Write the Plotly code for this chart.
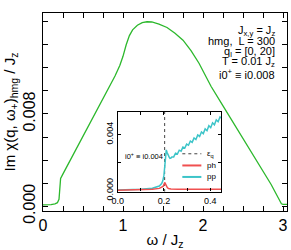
import plotly.graph_objects as go

# ---------------- data ----------------
omega_main = [0, 0.05, 0.10, 0.15, 0.18, 0.20, 0.21, 0.215, 0.22, 0.25, 0.35, 0.5, 0.6, 0.7,
              0.8, 0.9, 0.96, 1.0, 1.04, 1.08, 1.12, 1.18, 1.24, 1.3, 1.36, 1.45, 1.55, 1.65,
              1.75, 1.85, 1.95, 2.1, 2.25, 2.4, 2.55, 2.7, 2.85, 2.95, 2.98, 3.0, 3.05]
chi_main = [0.00012, 0.00012, 0.00014, 0.0002, 0.0003, 0.0006, 0.0015, 0.0023, 0.0024, 0.0028,
            0.0041, 0.0061, 0.0074, 0.0087, 0.0100, 0.0113, 0.0122, 0.0130, 0.0140, 0.0148,
            0.0153, 0.0157, 0.01593, 0.0160, 0.01598, 0.0158, 0.0155, 0.0150, 0.0144, 0.0135,
            0.0124, 0.0104, 0.0087, 0.0070, 0.0053, 0.0036, 0.0019, 0.0006, 0.0002, 0.00015,
            0.00015]

pp_omega = [0, 0.05, 0.1, 0.15, 0.17, 0.18, 0.19, 0.195, 0.2, 0.202, 0.204, 0.207, 0.21, 0.214,
            0.218, 0.222, 0.226, 0.23, 0.234, 0.242, 0.250, 0.258, 0.266, 0.274, 0.282, 0.290,
            0.298, 0.306, 0.314, 0.322, 0.330, 0.338, 0.346, 0.354, 0.362, 0.370, 0.378, 0.386,
            0.394, 0.402, 0.410, 0.418, 0.426, 0.434, 0.442, 0.447]
pp_vals = [0.00004, 0.00006, 0.0001, 0.00017, 0.00025, 0.00033, 0.0005, 0.0007, 0.0011, 0.0016,
           0.0022, 0.0027, 0.0029, 0.0027, 0.0025, 0.0024, 0.0023, 0.00232, 0.00240, 0.00240,
           0.00267, 0.00261, 0.00288, 0.00281, 0.00310, 0.00303, 0.00331, 0.00323, 0.00353,
           0.00344, 0.00375, 0.00364, 0.00397, 0.00386, 0.00418, 0.00406, 0.00440, 0.00427,
           0.00462, 0.00448, 0.00483, 0.00469, 0.00504, 0.00491, 0.00525, 0.00518]

ph_omega = [0, 0.05, 0.1, 0.15, 0.18, 0.19, 0.196, 0.2, 0.203, 0.206, 0.21, 0.215, 0.22, 0.23,
            0.26, 0.3, 0.35, 0.4, 0.447]
ph_vals = [0.00003, 0.00004, 0.00006, 0.0001, 0.00016, 0.00022, 0.0003, 0.00042, 0.00058, 0.0005,
           0.0003, 0.0002, 0.00015, 0.00012, 0.0001, 0.0001, 0.0001, 0.0001, 0.0001]

eps_q = 0.203

info_lines = ["J<sub>x,y</sub> = J<sub>z</sub>", "hmg,  L = 300", "q<sub>l</sub> = [0, 20]",
              "T = 0.01 J<sub>z</sub>", "i0<sup>+</sup> ≡ i0.008"]

FONT = "Liberation Sans, Arial, Helvetica, sans-serif"
GREEN = "#2cb82c"
RED = "#f05050"
CYAN = "#3cc4c8"

fig = go.Figure()
fig.add_trace(go.Scatter(x=omega_main, y=chi_main, mode="lines",
                         line=dict(color=GREEN, width=1.3), showlegend=False))
fig.add_trace(go.Scatter(x=[eps_q, eps_q], y=[-0.0001, 0.0057], mode="lines",
                         line=dict(color="#444", width=1, dash="dot"), showlegend=False,
                         xaxis="x2", yaxis="y2"))
fig.add_trace(go.Scatter(x=pp_omega, y=pp_vals, mode="lines",
                         line=dict(color=CYAN, width=1.5), showlegend=False,
                         xaxis="x2", yaxis="y2"))
fig.add_trace(go.Scatter(x=ph_omega, y=ph_vals, mode="lines",
                         line=dict(color=RED, width=1.5), showlegend=False,
                         xaxis="x2", yaxis="y2"))

axis_common = dict(showline=True, linecolor="black", linewidth=1.3, mirror="allticks",
                   ticks="inside", tickcolor="black", tickwidth=1, showgrid=False,
                   zeroline=False, tickmode="linear")

fig.update_layout(
    width=291, height=250,
    margin=dict(l=43, r=3, t=13, b=33),
    paper_bgcolor="white", plot_bgcolor="white",
    font=dict(family=FONT, color="black"),
    xaxis=dict(axis_common, range=[0, 3.05], tick0=0, dtick=1, tickformat="d",
               ticklen=5, tickfont=dict(size=16),
               minor=dict(ticks="inside", dtick=0.25, ticklen=5, tickcolor="black", showgrid=False),
               title=dict(text="ω / J<sub>z</sub>", font=dict(size=15), standoff=2)),
    yaxis=dict(axis_common, range=[-0.00042, 0.01676], tick0=0, dtick=0.008, tickformat=".3f",
               ticklen=5, tickfont=dict(size=16), tickangle=-90,
               minor=dict(ticks="inside", dtick=0.002, ticklen=5, tickcolor="black", showgrid=False),
               title=dict(text="Im χ(q, ω<sub>+</sub>)<sub>hmg</sub> / J<sub>z</sub>",
                          font=dict(size=15), standoff=2)),
    xaxis2=dict(axis_common, domain=[0.306, 0.731], anchor="y2", range=[0, 0.448],
                tick0=0, dtick=0.2, tickformat=".1f", ticklen=3, tickfont=dict(size=9),
                minor=dict(ticks="inside", dtick=0.1, ticklen=3, tickcolor="black", showgrid=False)),
    yaxis2=dict(axis_common, domain=[0.098, 0.5], anchor="x2", range=[-0.00007, 0.0056],
                tick0=0, dtick=0.004, tickformat=".3f", ticklen=3, tickfont=dict(size=9),
                tickangle=-90,
                minor=dict(ticks="inside", dtick=0.002, ticklen=3, tickcolor="black", showgrid=False)),
)

# white background for the inset
fig.add_shape(type="rect", xref="x2 domain", yref="y2 domain", x0=0, x1=1, y0=0, y1=1,
              fillcolor="white", line=dict(width=0), layer="below")

info_y = [0.910, 0.857, 0.804, 0.751, 0.694]
for txt, yy in zip(info_lines, info_y):
    fig.add_annotation(text=txt, xref="paper", yref="paper", x=0.959, y=yy,
                       xanchor="right", yanchor="middle", showarrow=False,
                       font=dict(size=11, family=FONT))

fig.add_annotation(text="i0<sup>+</sup> ≡ i0.004", xref="x2", yref="y2", x=0.115, y=0.0025,
                   showarrow=False, font=dict(size=7.5, family=FONT))

# inset legend
legend_items = [("ε<sub>q</sub>", dict(color="#444", width=1, dash="dot")),
                ("ph", dict(color=RED, width=2)),
                ("pp", dict(color=CYAN, width=2))]
leg_y = [0.289, 0.230, 0.172]
for (lab, ln), yy in zip(legend_items, leg_y):
    fig.add_shape(type="line", xref="paper", yref="paper", x0=0.571, x1=0.649, y0=yy, y1=yy,
                  line=ln)
    fig.add_annotation(text=lab, xref="paper", yref="paper", x=0.665, y=yy, xanchor="left",
                       yanchor="middle", showarrow=False, font=dict(size=8, family=FONT))

fig.write_html("out.html", config={"displayModeBar": False},
               post_script="document.body.style.margin='0px';document.body.style.padding='0px';")
